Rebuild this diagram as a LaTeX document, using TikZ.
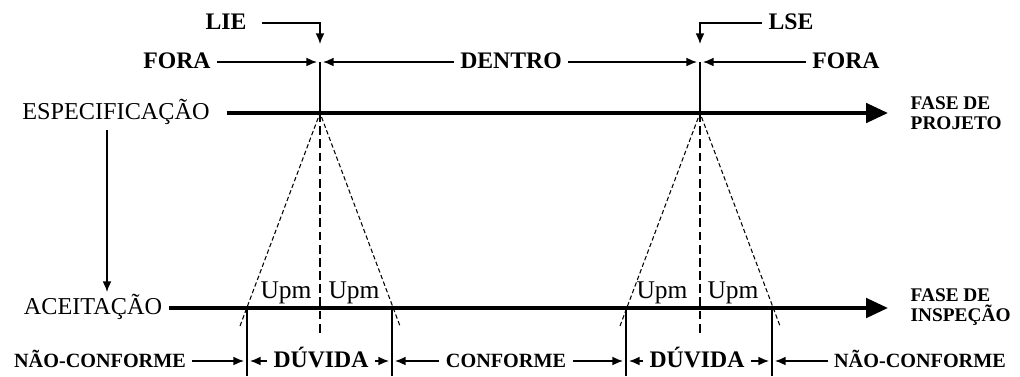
\documentclass[tikz,border=0pt]{standalone}
\usepackage{fontspec}
\setmainfont{Liberation Serif}
\usetikzlibrary{arrows.meta}

\begin{document}
\begin{tikzpicture}[x=0.02cm,y=-0.02cm,line width=0.8pt,>={Latex[length=6pt,width=5pt]},
  big/.style={font=\bfseries\fontsize{13.5}{15}\selectfont,text height=1.5ex,text depth=0pt},
  small/.style={font=\bfseries\fontsize{11.5}{13}\selectfont,text height=1.5ex,text depth=0pt},
  plain/.style={font=\fontsize{13.8}{15}\selectfont,text height=1.5ex,text depth=0pt},
  phase/.style={font=\bfseries\fontsize{11}{11.5}\selectfont,align=left,anchor=west,inner sep=0pt},
  axis/.style={line width=2.2pt,-{Triangle[length=12.5pt,width=11pt]}},
  cone/.style={line width=0.6pt,dash pattern=on 2.5pt off 1.5pt},
  mid/.style={dash pattern=on 5pt off 2.5pt}]
\useasboundingbox (0,0) rectangle (1020,376);

% labels
\node[big] (lie) at (226,23) {LIE};
\node[big] (lse) at (791,23) {LSE};
\node[big] (foraL) at (177,62) {FORA};
\node[big] (dentro) at (511,62) {DENTRO};
\node[big] (foraR) at (846,62) {FORA};
\node[plain] (espec) at (116,113) {ESPECIFICAÇÃO};
\node[plain] (aceit) at (93,308) {ACEITAÇÃO};
\node[phase] (projeto) at (910,113) {FASE DE\\PROJETO};
\node[phase] (inspecao) at (910,307) {FASE DE\\INSPEÇÃO};
\node[plain,font=\fontsize{14.5}{15}\selectfont] (u1) at (286,292) {Upm};
\node[plain,font=\fontsize{14.5}{15}\selectfont] (u2) at (354,292) {Upm};
\node[plain,font=\fontsize{14.5}{15}\selectfont] (u3) at (662,292) {Upm};
\node[plain,font=\fontsize{14.5}{15}\selectfont] (u4) at (733,292) {Upm};
\node[small] (nc1) at (100,361) {NÃO-CONFORME};
\node[big] (duv1) at (321,361) {DÚVIDA};
\node[small] (conf) at (506,361) {CONFORME};
\node[big] (duv2) at (697,361) {DÚVIDA};
\node[small] (nc2) at (920,361) {NÃO-CONFORME};

% points
\coordinate (lieTip) at (320,44);
\coordinate (lseTip) at (700,44);
\coordinate (lieTop) at (320,62);
\coordinate (lseTop) at (700,62);
\coordinate (lieAx) at (320,113);
\coordinate (lseAx) at (700,113);
\coordinate (projTip) at (888,113);
\coordinate (inspTip) at (888,308);
\coordinate (dnTop) at (107,130);
\coordinate (dnEnd) at (107,292);
\coordinate (lieL) at (240,326);
\coordinate (lieR) at (400,326);
\coordinate (lieMid) at (320,335);
\coordinate (lseL) at (620,326);
\coordinate (lseR) at (780,326);
\coordinate (lseMid) at (700,335);
\coordinate (a1) at (317,62);
\coordinate (a2) at (323,62);
\coordinate (a3) at (697,62);
\coordinate (a4) at (703,62);
\coordinate (t1) at (244,361);
\coordinate (t2) at (250,361);
\coordinate (t3) at (389,361);
\coordinate (t4) at (395,361);
\coordinate (t5) at (623,361);
\coordinate (t6) at (629,361);
\coordinate (t7) at (769,361);
\coordinate (t8) at (775,361);

% limits
\draw[->] ([xshift=5pt]lie.east) -| (lieTip);
\draw[->] (lse) -| (lseTip);
\draw[->] (foraL) -- (a1);
\draw[->] (dentro) -- (a2);
\draw[->] (dentro) -- (a3);
\draw[->] (foraR) -- (a4);
\draw (lieTop) -- (lieAx);
\draw (lseTop) -- (lseAx);

% phases
\draw[axis] ([xshift=6pt]espec.east) -- (projTip);
\draw[axis] (aceit) -- (inspTip);
\draw[->] (dnTop) -- (dnEnd);

% uncertainty cones
\draw[cone] (lieL) -- (lieAx) -- (lieR);
\draw[cone] (lseL) -- (lseAx) -- (lseR);
\draw[mid] (lieAx) -- (lieMid);
\draw[mid] (lseAx) -- (lseMid);
\foreach \x [count=\i] in {247,392,626,772} {
  \coordinate (v\i) at (\x,308);
  \coordinate (w\i) at (\x,376);
  \draw (v\i) -- (w\i);
}

% zones
\draw[->] (nc1) -- (t1);
\draw[->] (duv1) -- (t2);
\draw[->] (duv1) -- (t3);
\draw[->] (conf) -- (t4);
\draw[->] (conf) -- (t5);
\draw[->] (duv2) -- (t6);
\draw[->] (duv2) -- (t7);
\draw[->] (nc2) -- (t8);
\end{tikzpicture}
\end{document}
